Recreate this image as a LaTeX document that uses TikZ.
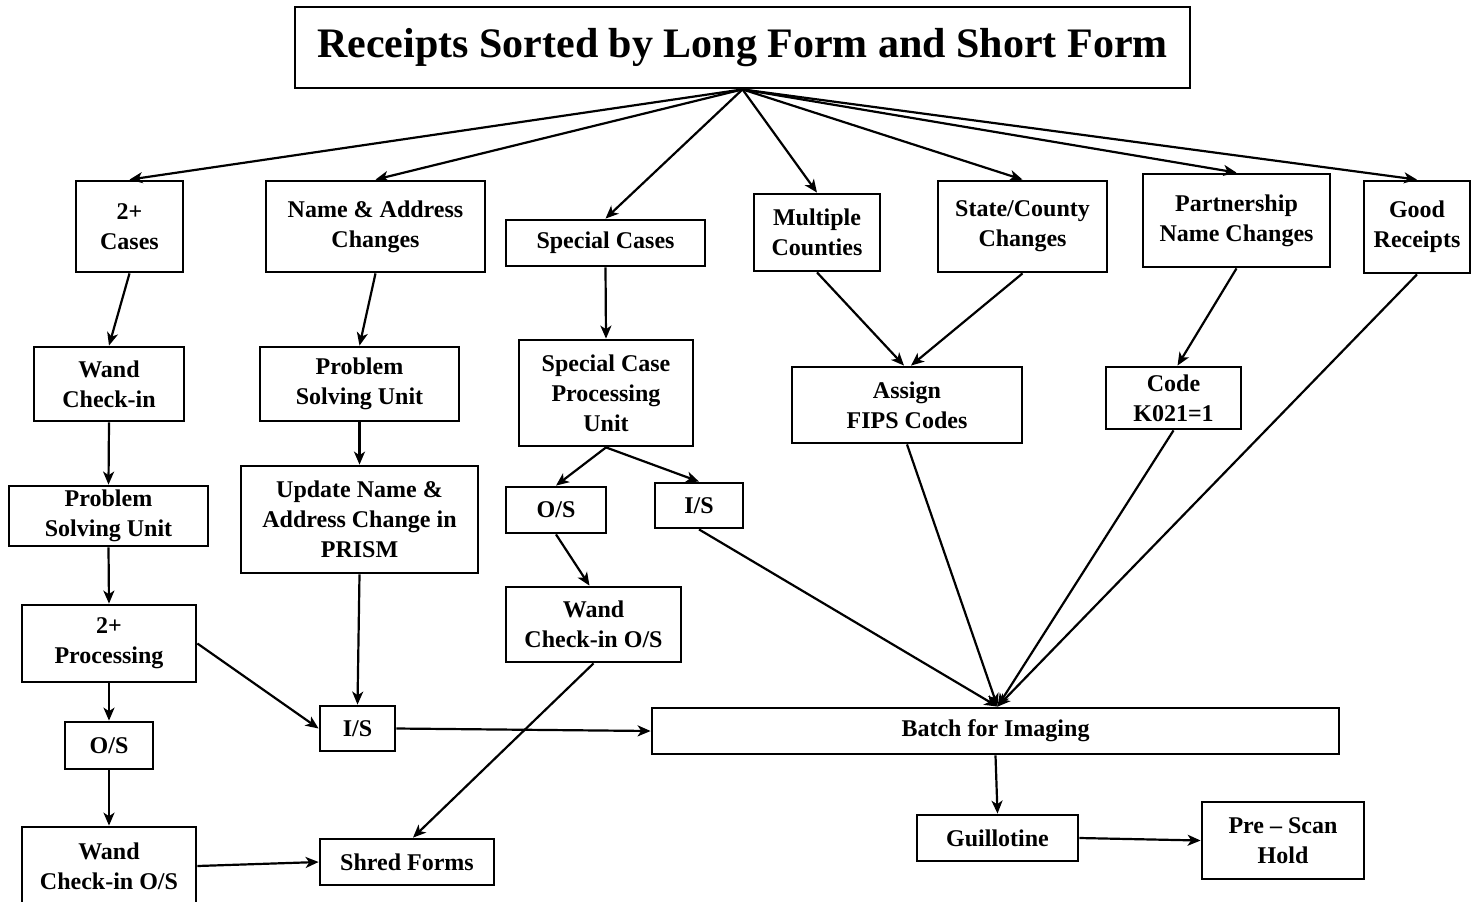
\documentclass[tikz,border=0pt]{standalone}
\usepackage{fontspec}
\setmainfont{Liberation Serif}
\usetikzlibrary{arrows.meta}

\begin{document}
\begin{tikzpicture}[x=0.5pt, y=-0.5pt,
  bx/.style={draw, line width=1.4pt, align=center, inner sep=1pt, font=\bfseries\fontsize{12}{15}\selectfont},
  sz/.style 2 args={minimum width=#1*0.5pt, minimum height=#2*0.5pt},
  ttl/.style={draw, line width=1.4pt, inner sep=0pt, font=\bfseries\fontsize{21}{25}\selectfont},
  ar/.style={-{Stealth[length=6.5pt,width=5.5pt,inset=1.8pt]}, line width=1.1pt}]
  \useasboundingbox (0,0) rectangle (1478,901);

  % title
  \node[ttl, sz={895}{81}] (rec) at (742.5,47.5) {Receipts Sorted by Long Form and Short Form};

  % first row
  \node[bx, sz={107}{91}] (cases) at (129.5,226.5) {2+\\Cases};
  \node[bx, sz={219}{91}] (nac) at (375.5,226.5) {Name \& Address\\Changes};
  \node[bx, sz={199}{46}] (spc) at (605.5,243) {Special Cases};
  \node[bx, sz={126}{77}] (multi) at (817,232.5) {Multiple\\Counties};
  \node[bx, sz={169}{91}] (stco) at (1022.5,226.5) {State/County\\Changes};
  \node[bx, sz={187}{93}] (partn) at (1236.5,220.5) {Partnership\\Name Changes};
  \node[bx, sz={106}{92}] (good) at (1417,227) {Good\\Receipts};

  % second row
  \node[bx, sz={150}{74}] (wand) at (109,384) {Wand\\Check-in};
  \node[bx, sz={199}{74}] (psua) at (359.5,384) {Problem\\Solving Unit};
  \node[bx, sz={174}{106}] (scpu) at (606,393) {Special Case\\Processing\\Unit};
  \node[bx, sz={230}{76}] (fips) at (907,405) {Assign\\FIPS Codes};
  \node[bx, sz={135}{62}] (code) at (1173.5,398) {Code\\K021=1};

  % third row
  \node[bx, sz={199}{60}] (psub) at (108.5,516) {Problem\\Solving Unit};
  \node[bx, sz={237}{107}] (upd) at (359.5,519.5) {Update Name \&\\Address Change in\\PRISM};
  \node[bx, sz={100}{46}] (osa) at (556,510) {O/S};
  \node[bx, sz={88}{45}] (isa) at (699,505.5) {I/S};

  % lower part
  \node[bx, sz={174}{77}] (proc) at (109,643.5) {2+\\Processing};
  \node[bx, sz={175}{75}] (wosa) at (593.5,624.5) {Wand\\Check-in O/S};
  \node[bx, sz={75}{45}] (isb) at (357.5,728.5) {I/S};
  \node[bx, sz={687}{46}] (batch) at (995.5,731) {Batch for Imaging};
  \node[bx, sz={88}{47}] (osb) at (109,745.5) {O/S};
  \node[bx, sz={174}{78}] (wosb) at (109,866) {Wand\\Check-in O/S};
  \node[bx, sz={174}{46}] (shred) at (407,862) {Shred Forms};
  \node[bx, sz={161}{46}] (guil) at (997.5,838) {Guillotine};
  \node[bx, sz={162}{77}] (pscan) at (1283,840.5) {Pre – Scan\\Hold};

  % sorting
  \foreach \n in {cases,nac,spc,multi,stco,partn,good}
    \draw[ar] (rec.south) -- (\n.north);

  % branches
  \draw[ar] (cases.south) -- (wand.north);
  \draw[ar] (nac.south) -- (psua.north);
  \draw[ar] (spc.south) -- (scpu.north);
  \draw[ar] (multi.south) -- ([xshift=-1.5pt]fips.north);
  \draw[ar] (stco.south) -- ([xshift=2pt]fips.north);
  \draw[ar] (partn.south) -- ([xshift=2pt]code.north);
  \draw[ar] (wand.south) -- (psub.north);
  \draw[ar] (psua.south) -- (upd.north);
  \draw[ar] (scpu.south) -- (osa.north);
  \draw[ar] (scpu.south) -- (isa.north);
  \draw[ar] (osa.south) -- ([xshift=-2pt]wosa.north);
  \draw[ar] (psub.south) -- (proc.north);
  \draw[ar] (upd.south) -- (isb.north);
  \draw[ar] (proc.east) -- (isb.west);
  \draw[ar] (proc.south) -- (osb.north);
  \draw[ar] (osb.south) -- (wosb.north);
  \draw[ar] (isb.east) -- (batch.west);
  \draw[ar] (wosa.south) -- ([xshift=3pt]shred.north);
  \draw[ar] (wosb.east) -- (shred.west);

  % into batch
  \foreach \n in {isa,fips,code,good}
    \draw[ar] (\n.south) -- ([xshift=1pt]batch.north);
  \draw[ar] (batch.south) -- (guil.north);
  \draw[ar] (guil.east) -- (pscan.west);
\end{tikzpicture}
\end{document}
